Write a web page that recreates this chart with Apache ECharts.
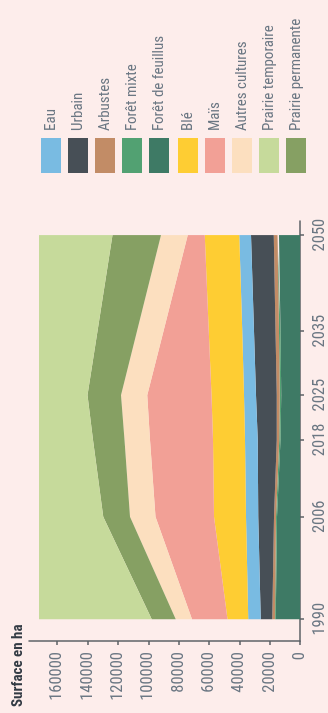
<!DOCTYPE html>
<html>
<head>
<meta charset="utf-8">
<script src="https://cdn.jsdelivr.net/npm/echarts@6/dist/echarts.min.js"></script>
<style>
  html, body { margin: 0; padding: 0; background: #fdedeb; overflow: hidden; }
  #wrap { position: absolute; left: 0; top: 0; width: 328px; height: 713px; overflow: hidden; }
  /* chart is laid out landscape and turned a quarter turn counter-clockwise */
  #chart { position: absolute; left: 0; top: 0; width: 713px; height: 328px;
           transform-origin: 0 0; transform: translateY(713px) rotate(-90deg); }
</style>
</head>
<body>
<div id="wrap"><div id="chart"></div></div>
<script>
// Years of the land-use snapshots
const years = [1990, 2006, 2018, 2025, 2035, 2050];

// Surface (ha) per land-use class, stacked from the bottom up
const foretFeuillus     = [16000, 15200, 12900, 12300, 12900, 13800];
const foretMixte        = [  500,   600,   700,  1000,  1000,  1000];
const arbustes          = [ 1800,  1300,  1800,  2000,  2200,  2500];
const urbain            = [ 7600, 10400, 12500, 13700, 14200, 15000];
const eau               = [ 8200,  8100,  8400,  7900,  7800,  7700];
const ble               = [13600, 21100, 21100, 21400, 22000, 22800];
const mais              = [23500, 38600, 41500, 42300, 29900, 11200];
const autresCultures    = [10700, 16800, 16800, 17300, 17400, 17600];
const prairiePermanente = [15800, 17600, 20700, 22200, 26100, 31900];
const prairieTemporaire = [74300, 42300, 35600, 31900, 38500, 48500];

// Value-axis tick labels
const surfaceTicks = [0, 20000, 40000, 60000, 80000, 100000, 120000, 140000, 160000];

// Legend groups
const legendNature = ['Eau', 'Urbain', 'Arbustes', 'Forêt mixte', 'Forêt de feuillus'];
const legendCrops  = ['Blé', 'Maïs', 'Autres cultures', 'Prairie temporaire', 'Prairie permanente'];

const layers = [
  { name: 'Forêt de feuillus',  values: foretFeuillus,     color: '#3e7a65' },
  { name: 'Forêt mixte',        values: foretMixte,        color: '#52a172' },
  { name: 'Arbustes',           values: arbustes,          color: '#c28c66' },
  { name: 'Urbain',             values: urbain,            color: '#474f56' },
  { name: 'Eau',                values: eau,               color: '#79bbe2' },
  { name: 'Blé',                values: ble,               color: '#fecd33' },
  { name: 'Maïs',               values: mais,              color: '#f2a096' },
  { name: 'Autres cultures',    values: autresCultures,    color: '#fcdfbf' },
  { name: 'Prairie permanente', values: prairiePermanente, color: '#86a063' },
  { name: 'Prairie temporaire', values: prairieTemporaire, color: '#c6da9b' }
];

const FONT = '"Roboto Condensed", Roboto, sans-serif';
const GREY = '#6b7783';
const AXIS = '#5b6066';

const legendStyle = (top, names) => ({
  data: names,
  orient: 'vertical',
  left: 540,
  top: top,
  padding: 0,
  itemWidth: 35,
  itemHeight: 20,
  itemGap: 7,
  icon: 'rect',
  selectedMode: false,
  textStyle: { fontFamily: FONT, fontSize: 15, color: GREY, lineHeight: 20, padding: [0, 0, 0, 2] }
});

const chart = echarts.init(document.getElementById('chart'), null, { renderer: 'canvas' });
chart.setOption({
  animation: false,
  backgroundColor: '#fdedeb',
  title: {
    text: 'Surface en ha',
    left: 6,
    top: 11,
    padding: 0,
    textStyle: { fontFamily: FONT, fontSize: 15, fontWeight: 'bold', color: '#333b44' }
  },
  legend: [legendStyle(41, legendNature), legendStyle(178, legendCrops)],
  grid: { left: 72, right: 221, top: 29, bottom: 28, containLabel: false },
  xAxis: {
    type: 'value',
    min: 1986.6,
    max: 2052.2,
    splitLine: { show: false },
    axisLine: { show: true, onZero: false, lineStyle: { color: AXIS, width: 1.5 } },
    axisTick: { show: true, length: 4, customValues: years, lineStyle: { color: AXIS, width: 1.5 } },
    axisLabel: { customValues: years, margin: 11, fontFamily: FONT, fontSize: 16.5, color: GREY,
                 formatter: v => String(Math.round(v)) }
  },
  yAxis: {
    type: 'value',
    min: 0,
    max: 178600,
    splitLine: { show: false },
    axisLine: { show: true, lineStyle: { color: AXIS, width: 1.5 } },
    axisTick: { show: true, length: 4, customValues: surfaceTicks, lineStyle: { color: AXIS, width: 1.5 } },
    axisLabel: { customValues: surfaceTicks, margin: 11, fontFamily: FONT, fontSize: 16.5, color: GREY,
                 formatter: v => String(v) }
  },
  // rows are [surface, year] so the surface dimension is the one that gets stacked
  series: layers.map(l => ({
    name: l.name,
    type: 'line',
    stack: 'surface',
    data: years.map((y, i) => [l.values[i], y]),
    encode: { x: 1, y: 0 },
    showSymbol: false,
    symbol: 'none',
    color: l.color,
    itemStyle: { color: l.color },
    lineStyle: { width: 0, color: l.color },
    areaStyle: { color: l.color, opacity: 1 },
    emphasis: { disabled: true },
    silent: true
  }))
});
</script>
</body>
</html>
